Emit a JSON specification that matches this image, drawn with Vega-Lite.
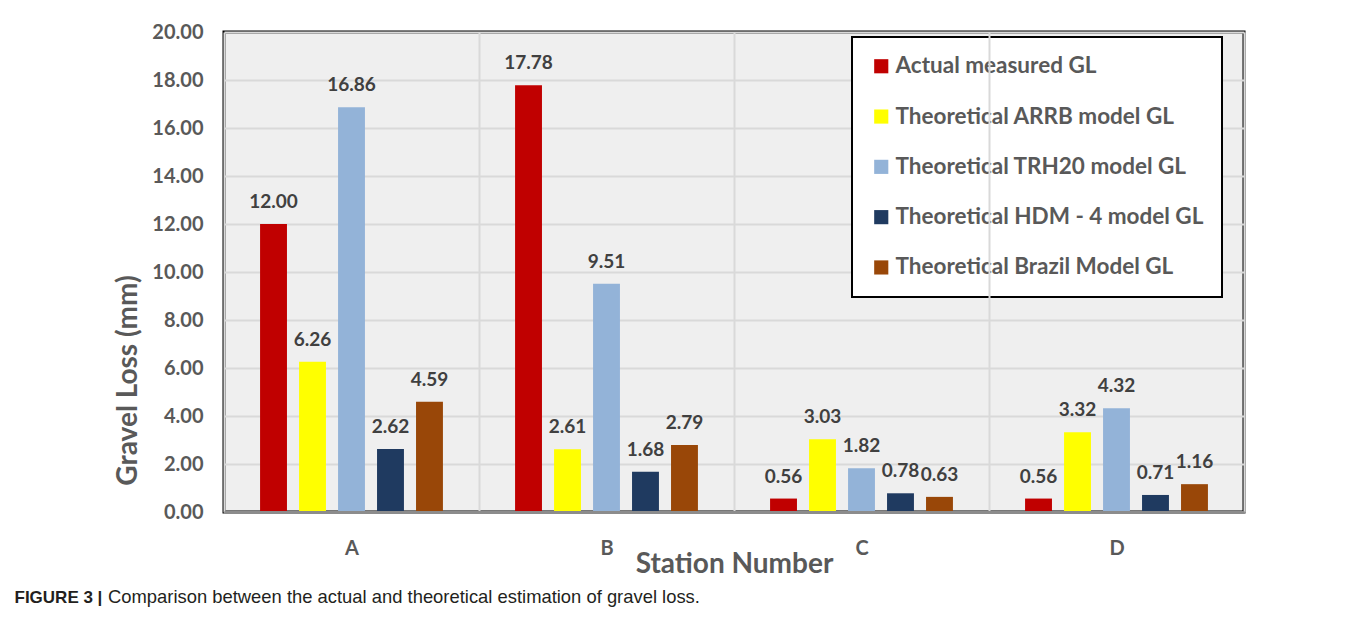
{
  "$schema": "https://vega.github.io/schema/vega-lite/v6.json",
  "autosize": "none",
  "width": 1020,
  "height": 480,
  "padding": {"left": 224, "top": 32, "right": 113, "bottom": 125},
  "background": "white",
  "title": {
    "text": "Comparison between the actual and theoretical estimation of gravel loss.",
    "orient": "bottom",
    "anchor": "start",
    "frame": "group",
    "dx": -116,
    "dy": -28,
    "offset": 11,
    "font": "Liberation Sans",
    "fontSize": 18.4,
    "fontWeight": "normal",
    "color": "#231f20"
  },
  "data": {
    "values": [
      {"station": "A", "series": "Actual measured GL", "value": 12.00},
      {"station": "A", "series": "Theoretical ARRB model GL", "value": 6.26},
      {"station": "A", "series": "Theoretical TRH20 model GL", "value": 16.86},
      {"station": "A", "series": "Theoretical HDM - 4 model GL", "value": 2.62},
      {"station": "A", "series": "Theoretical Brazil Model GL", "value": 4.59},
      {"station": "B", "series": "Actual measured GL", "value": 17.78},
      {"station": "B", "series": "Theoretical ARRB model GL", "value": 2.61},
      {"station": "B", "series": "Theoretical TRH20 model GL", "value": 9.51},
      {"station": "B", "series": "Theoretical HDM - 4 model GL", "value": 1.68},
      {"station": "B", "series": "Theoretical Brazil Model GL", "value": 2.79},
      {"station": "C", "series": "Actual measured GL", "value": 0.56},
      {"station": "C", "series": "Theoretical ARRB model GL", "value": 3.03},
      {"station": "C", "series": "Theoretical TRH20 model GL", "value": 1.82},
      {"station": "C", "series": "Theoretical HDM - 4 model GL", "value": 0.78},
      {"station": "C", "series": "Theoretical Brazil Model GL", "value": 0.63},
      {"station": "D", "series": "Actual measured GL", "value": 0.56},
      {"station": "D", "series": "Theoretical ARRB model GL", "value": 3.32},
      {"station": "D", "series": "Theoretical TRH20 model GL", "value": 4.32},
      {"station": "D", "series": "Theoretical HDM - 4 model GL", "value": 0.71},
      {"station": "D", "series": "Theoretical Brazil Model GL", "value": 1.16}
    ]
  },
  "encoding": {
    "x": {
      "field": "station",
      "type": "nominal",
      "scale": {"paddingInner": 0, "paddingOuter": 0},
      "axis": {
        "title": "Station Number",
        "orient": "bottom",
        "labelAngle": 0,
        "labelFont": "Lato",
        "labelFontSize": 20,
        "labelFontWeight": "bold",
        "labelColor": "#595959",
        "labelPadding": 26,
        "ticks": false,
        "tickBand": "extent",
        "grid": true,
        "gridColor": "#d9d9d9",
        "gridWidth": 2,
        "domainColor": "#8c8c8c",
        "domainWidth": 3,
        "titleFont": "Lato",
        "titleFontSize": 28,
        "titleFontWeight": "bold",
        "titleColor": "#595959",
        "titleBaseline": "middle",
        "titleY": 52,
        "zindex": 1
      }
    },
    "xOffset": {
      "field": "series",
      "type": "nominal",
      "sort": ["Actual measured GL", "Theoretical ARRB model GL", "Theoretical TRH20 model GL", "Theoretical HDM - 4 model GL", "Theoretical Brazil Model GL"],
      "scale": {"paddingInner": 0.31, "paddingOuter": 0.925}
    },
    "y": {
      "field": "value",
      "type": "quantitative",
      "scale": {"domain": [0, 20], "nice": false},
      "axis": {
        "title": "Gravel Loss (mm)",
        "values": [0, 2, 4, 6, 8, 10, 12, 14, 16, 18, 20],
        "format": ".2f",
        "labelFont": "Lato",
        "labelFontSize": 20,
        "labelFontWeight": "bold",
        "labelColor": "#595959",
        "labelPadding": 21,
        "ticks": false,
        "domain": false,
        "grid": true,
        "gridColor": "#d9d9d9",
        "gridWidth": 2,
        "titleFont": "Lato",
        "titleFontSize": 28,
        "titleFontWeight": "bold",
        "titleColor": "#595959",
        "titleAngle": 270,
        "titleAlign": "center",
        "titleBaseline": "middle",
        "titleX": -96,
        "titleY": 348
      }
    }
  },
  "layer": [
    {
      "mark": {"type": "bar"},
      "encoding": {
        "color": {
          "field": "series",
          "type": "nominal",
          "scale": {
            "domain": ["Actual measured GL", "Theoretical ARRB model GL", "Theoretical TRH20 model GL", "Theoretical HDM - 4 model GL", "Theoretical Brazil Model GL"],
            "range": ["#C00000", "#FFFF00", "#93B3D8", "#1F3A60", "#994708"]
          },
          "legend": {
            "title": null,
            "orient": "none",
            "legendX": 628,
            "legendY": 5,
            "fillColor": "white",
            "strokeColor": "black",
            "padding": 18,
            "rowPadding": 27.3,
            "symbolType": "square",
            "symbolSize": 200,
            "symbolStrokeWidth": 0,
            "symbolOffset": 0,
            "labelFont": "Lato",
            "labelFontSize": 22.5,
            "labelFontWeight": "bold",
            "labelColor": "#595959",
            "labelOffset": 3,
            "labelLimit": 400
          }
        }
      }
    },
    {
      "mark": {
        "type": "text",
        "baseline": "alphabetic",
        "dy": -16,
        "font": "Lato",
        "fontSize": 19,
        "fontWeight": "bold",
        "color": "#404040"
      },
      "encoding": {
        "x": {
          "field": "station",
          "type": "nominal",
          "scale": {"paddingInner": 0, "paddingOuter": 0},
          "axis": {
            "orient": "top",
            "title": "FIGURE 3 |",
            "labels": false,
            "ticks": false,
            "domain": false,
            "grid": false,
            "titleFont": "Liberation Sans",
            "titleFontSize": 17,
            "titleFontWeight": "bold",
            "titleColor": "#231f20",
            "titleAlign": "left",
            "titleAnchor": null,
            "titleBaseline": "middle",
            "titleAngle": 0,
            "titleX": -210,
            "titleY": 565
          }
        },
        "text": {"field": "value", "type": "quantitative", "format": ".2f"}
      }
    }
  ],
  "resolve": {"axis": {"x": "independent"}},
  "config": {
    "view": {"fill": "#efefef", "stroke": "black", "strokeWidth": 3},
    "legend": {"strokeWidth": 2}
  }
}
